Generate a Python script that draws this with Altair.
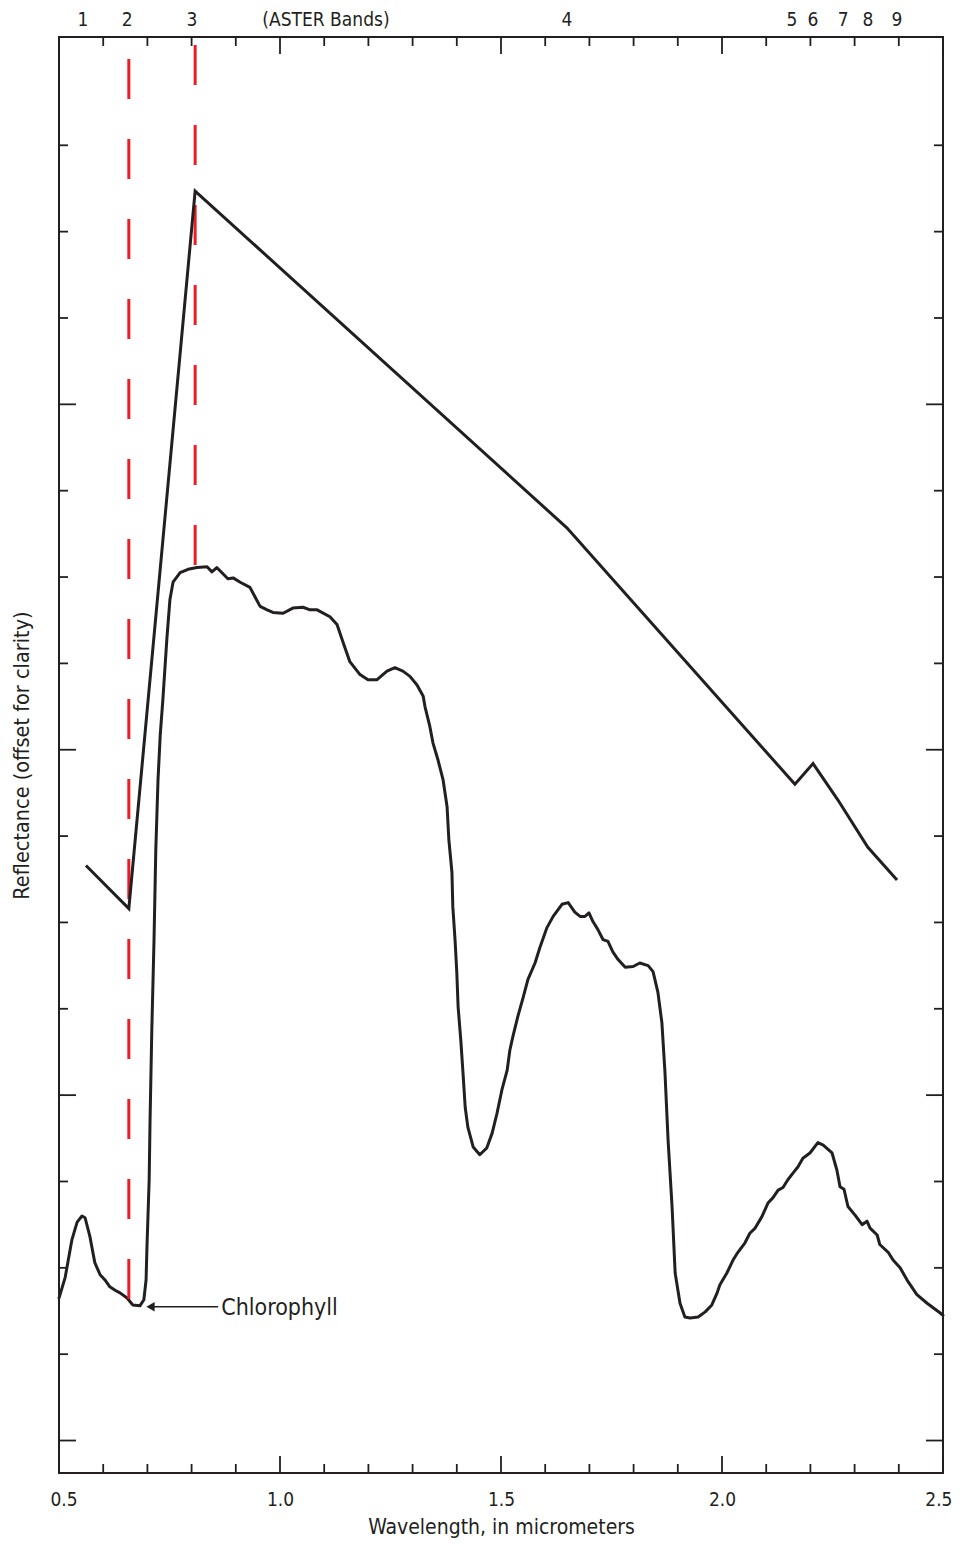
import altair as alt
import pandas as pd

# ---------------- data ----------------
# Vegetation reflectance spectrum (wavelength in micrometers, reflectance in offset units)
spec_wl = [0.500, 0.514, 0.529, 0.541, 0.552, 0.559, 0.570, 0.581, 0.593, 0.604,
           0.615, 0.627, 0.638, 0.654, 0.667, 0.683, 0.692, 0.697, 0.699, 0.704,
           0.706, 0.710, 0.715, 0.719, 0.724, 0.729, 0.735, 0.744, 0.751, 0.758,
           0.774, 0.792, 0.812, 0.835, 0.846, 0.857, 0.882, 0.894, 0.910, 0.932,
           0.955, 0.971, 0.984, 1.007, 1.029, 1.052, 1.068, 1.084, 1.113, 1.129,
           1.143, 1.158, 1.181, 1.199, 1.219, 1.242, 1.260, 1.278, 1.294, 1.310,
           1.324, 1.328, 1.339, 1.346, 1.357, 1.369, 1.378, 1.382, 1.389, 1.391,
           1.396, 1.400, 1.403, 1.409, 1.414, 1.419, 1.425, 1.437, 1.452, 1.468,
           1.480, 1.491, 1.502, 1.514, 1.520, 1.527, 1.538, 1.550, 1.561, 1.577,
           1.588, 1.604, 1.618, 1.638, 1.652, 1.667, 1.679, 1.690, 1.699, 1.708,
           1.719, 1.731, 1.742, 1.753, 1.765, 1.781, 1.799, 1.814, 1.833, 1.844,
           1.855, 1.864, 1.871, 1.878, 1.887, 1.894, 1.905, 1.916, 1.928, 1.946,
           1.962, 1.977, 1.989, 1.995, 2.011, 2.025, 2.036, 2.052, 2.063, 2.075,
           2.090, 2.104, 2.115, 2.127, 2.138, 2.149, 2.161, 2.172, 2.183, 2.199,
           2.217, 2.229, 2.249, 2.260, 2.267, 2.276, 2.285, 2.301, 2.317, 2.328,
           2.335, 2.351, 2.357, 2.376, 2.387, 2.403, 2.421, 2.441, 2.464, 2.493,
           2.500]
spec_refl = [1.65, 1.89, 2.32, 2.53, 2.60, 2.58, 2.36, 2.06, 1.92, 1.86,
             1.78, 1.74, 1.71, 1.65, 1.57, 1.56, 1.63, 1.86, 2.24, 3.02,
             3.71, 4.76, 5.80, 6.84, 7.65, 8.17, 8.58, 9.28, 9.74, 9.94,
             10.05, 10.09, 10.11, 10.12, 10.06, 10.11, 9.98, 9.99, 9.94, 9.88,
             9.66, 9.62, 9.59, 9.58, 9.64, 9.65, 9.62, 9.62, 9.54, 9.45,
             9.24, 9.02, 8.87, 8.81, 8.81, 8.91, 8.95, 8.91, 8.85, 8.75,
             8.62, 8.50, 8.27, 8.08, 7.89, 7.65, 7.34, 6.96, 6.58, 6.18,
             5.80, 5.42, 5.02, 4.64, 4.26, 3.86, 3.63, 3.40, 3.31, 3.39,
             3.56, 3.79, 4.06, 4.29, 4.52, 4.68, 4.91, 5.13, 5.34, 5.53,
             5.71, 5.94, 6.07, 6.21, 6.23, 6.12, 6.07, 6.07, 6.11, 6.01,
             5.92, 5.80, 5.78, 5.66, 5.57, 5.48, 5.49, 5.53, 5.50, 5.43,
             5.19, 4.84, 4.26, 3.48, 2.71, 1.94, 1.59, 1.43, 1.42, 1.43,
             1.49, 1.57, 1.71, 1.80, 1.94, 2.09, 2.18, 2.29, 2.40, 2.46,
             2.59, 2.75, 2.81, 2.90, 2.93, 3.02, 3.10, 3.17, 3.27, 3.33,
             3.45, 3.42, 3.33, 3.13, 2.94, 2.91, 2.71, 2.61, 2.50, 2.54,
             2.46, 2.38, 2.27, 2.18, 2.09, 2.00, 1.84, 1.69, 1.59, 1.48,
             1.45]

# Spectrum resampled to ASTER bands (offset upward)
aster_wl = [0.561, 0.658, 0.808, 1.649, 2.165, 2.206, 2.262, 2.330, 2.396]
aster_refl = [6.66, 6.16, 14.47, 10.57, 7.60, 7.84, 7.42, 6.87, 6.49]

# Red dashed band-position lines (bands 2 and 3)
red_wl = [0.658, 0.808]
red_top = [16.00, 16.16]
red_bottom = [1.60, 10.09]

# ASTER band numbers along the top
band_labels = ["1", "2", "3", "(ASTER Bands)", "4", "5", "6", "7", "8", "9"]
band_label_wl = [0.554, 0.654, 0.801, 1.104, 1.649, 2.158, 2.206, 2.274, 2.330, 2.396]

# Chlorophyll annotation
chl_arrow_start = [0.860]
chl_arrow_end = [0.712]
chl_tip = [0.707]
chl_level = [1.55]
chl_text_wl = [0.867]
chl_text = ["Chlorophyll"]

# Axis ticks
x_major = [0.5, 1.0, 1.5, 2.0, 2.5]
x_minor = [0.6, 0.7, 0.8, 0.9, 1.1, 1.2, 1.3, 1.4, 1.6, 1.7, 1.8, 1.9,
           2.1, 2.2, 2.3, 2.4]
y_major = [0, 4, 8, 12]
y_minor = [1, 2, 3, 5, 6, 7, 9, 10, 11, 13, 14, 15]

x_domain = [0.5, 2.5]
y_domain = [-0.376, 16.254]

# ---------------- style ----------------
W, H = 884, 1436
FONT = "Liberation Sans Narrow, Arial Narrow, DejaVu Sans Condensed, sans-serif"
INK = "#231f20"
RED = "#ed1c24"
MAJ, MIN = 17, 9

xs = alt.Scale(domain=x_domain, nice=False, zero=False)
ys = alt.Scale(domain=y_domain, nice=False, zero=False)

XAXIS = alt.Axis(values=x_major, format=".1f", title="Wavelength, in micrometers",
                 ticks=False, domain=False, grid=False, labelFont=FONT,
                 labelFontSize=19, labelColor=INK, labelPadding=17,
                 labelFlush=True, labelFlushOffset=9, labelOverlap=False,
                 titleFont=FONT, titleFontSize=21, titleFontWeight="normal",
                 titleColor=INK, titlePadding=7)
YAXIS = alt.Axis(values=[0], title="Reflectance (offset for clarity)",
                 ticks=False, domain=False, grid=False, labels=False,
                 titleFont=FONT, titleFontSize=21.5, titleFontWeight="normal",
                 titleColor=INK, titlePadding=26)


def X(field):
    return alt.X(field, type="quantitative", scale=xs, axis=XAXIS)


def Y(field):
    return alt.Y(field, type="quantitative", scale=ys, axis=YAXIS)


spec_df = pd.DataFrame({"wl": spec_wl, "refl": spec_refl})
aster_df = pd.DataFrame({"wl": aster_wl, "refl": aster_refl})
red_df = pd.DataFrame({"wl": red_wl, "top": red_top, "bottom": red_bottom})
band_df = pd.DataFrame({"wl": band_label_wl, "label": band_labels})
arrow_df = pd.DataFrame({"x1": chl_arrow_start, "x2": chl_arrow_end, "y": chl_level})
tip_df = pd.DataFrame({"x": chl_tip, "y": chl_level})
chl_df = pd.DataFrame({"x": chl_text_wl, "y": chl_level, "t": chl_text})

spectrum = alt.Chart(spec_df).mark_line(
    color=INK, strokeWidth=3, strokeJoin="round", strokeCap="round"
).encode(x=X("wl"), y=Y("refl"))

aster = alt.Chart(aster_df).mark_line(
    color=INK, strokeWidth=3, strokeJoin="miter"
).encode(x=X("wl"), y=Y("refl"))

red = alt.Chart(red_df).mark_rule(
    color=RED, strokeWidth=3, strokeDash=[40, 40], strokeCap="butt"
).encode(x=X("wl"), y=Y("top"), y2="bottom:Q")

bands = alt.Chart(band_df).mark_text(
    font=FONT, fontSize=19, color=INK, baseline="middle", align="center"
).encode(x=X("wl"), y=alt.value(-17), text="label:N")

arrow = alt.Chart(arrow_df).mark_rule(color=INK, strokeWidth=1.5).encode(
    x=X("x1"), x2="x2:Q", y=Y("y"))
tip = alt.Chart(tip_df).mark_point(
    shape="triangle-left", filled=True, color=INK, opacity=1, size=90
).encode(x=X("x"), y=Y("y"))
chl = alt.Chart(chl_df).mark_text(
    font=FONT, fontSize=23, color=INK, align="left", baseline="middle", dy=1
).encode(x=X("x"), y=Y("y"), text="t:N")


def xticks(vals, length):
    d = pd.DataFrame({"v": vals})
    base = alt.Chart(d).mark_rule(color=INK, strokeWidth=1.8)
    bottom = base.encode(x=X("v"), y=alt.value(H), y2=alt.value(H - length))
    top = base.encode(x=X("v"), y=alt.value(0), y2=alt.value(length))
    return [bottom, top]


def yticks(vals, length):
    d = pd.DataFrame({"v": vals})
    base = alt.Chart(d).mark_rule(color=INK, strokeWidth=1.8)
    left = base.encode(y=Y("v"), x=alt.value(0), x2=alt.value(length))
    right = base.encode(y=Y("v"), x=alt.value(W), x2=alt.value(W - length))
    return [left, right]


tick_layers = (xticks(x_major, MAJ) + xticks(x_minor, MIN)
               + yticks(y_major, MAJ) + yticks(y_minor, MIN))

chart = alt.layer(
    spectrum, *tick_layers, red, aster, arrow, tip, chl, bands
).properties(
    width=W, height=H,
    background="white",
    autosize=alt.AutoSizeParams(type="none"),
    padding={"left": 51, "top": 29, "right": 9, "bottom": 68},
).configure_view(
    stroke=INK, strokeWidth=2
)

chart.save("out.html", embed_options={"renderer": "svg", "actions": False})
